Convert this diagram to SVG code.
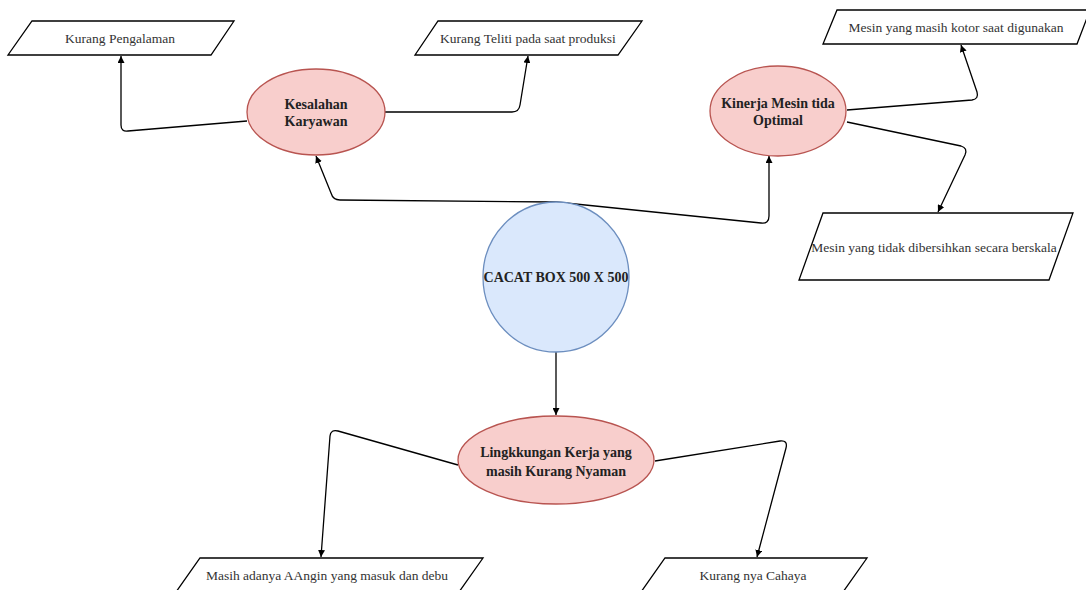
<svg xmlns="http://www.w3.org/2000/svg" width="1086" height="590" viewBox="0 0 1086 590">
<style>
.para{fill:#fff;stroke:#000;stroke-width:1.3}
.pink{fill:#f8cecc;stroke:#b85450;stroke-width:1.3}
.blue{fill:#dae8fc;stroke:#6c8ebf;stroke-width:1.3}
.t{font-size:13.5px;fill:#333;text-anchor:middle;dominant-baseline:central}
.b{font-size:14px;font-weight:bold;fill:#222;text-anchor:middle;dominant-baseline:central}
.e{fill:none;stroke:#000;stroke-width:1.3}
</style>
<defs>
<marker id="arr" viewBox="0 0 10 10" refX="10" refY="5" markerWidth="7" markerHeight="7" orient="auto" markerUnits="userSpaceOnUse">
<path d="M0,0 L10,5 L0,10 Z" fill="#000"/>
</marker>
</defs>
<rect width="1086" height="590" fill="#fff"/>
<g id="connectors">
<path class="e" marker-end="url(#arr)" d="M247,121 L128,131 Q121,132 121,125 L121,56"/>
<path class="e" marker-end="url(#arr)" d="M385,112 L512,112 Q519,112 520,105 L528,56"/>
<path class="e" marker-end="url(#arr)" d="M847,110 L972,100 Q979,99 977,92 L961,45"/>
<path class="e" marker-end="url(#arr)" d="M847,122 L961,146 Q968,148 965,155 L938,212"/>
<path class="e" marker-end="url(#arr)" d="M556,202 L340,200 Q333,200 331,193 L316,156"/>
<path class="e" marker-end="url(#arr)" d="M556,202 L761,223 Q769,224 769,216 L769,156"/>
<path class="e" marker-end="url(#arr)" d="M556,352 L556,415"/>
<path class="e" marker-end="url(#arr)" d="M458,465 L338,431 Q331,429 330,436 L321,557"/>
<path class="e" marker-end="url(#arr)" d="M655,461 L780,441 Q788,440 786,448 L757,557"/>
</g>
<g font-family="'Liberation Serif', 'DejaVu Serif', 'Times New Roman', serif">
<g id="kurang-pengalaman">
<polygon class="para" points="32,21 234,21 211,55 8,55"/>
<text class="t" x="120" y="38">Kurang Pengalaman</text>
</g>
<g id="kurang-teliti">
<polygon class="para" points="438,21 642,21 618,55 415,55"/>
<text class="t" x="528" y="38">Kurang Teliti pada saat produksi</text>
</g>
<g id="mesin-kotor">
<polygon class="para" points="837,10 1090,10 1077,44 823,44"/>
<text class="t" x="956" y="27">Mesin yang masih kotor saat digunakan</text>
</g>
<g id="mesin-tidak">
<polygon class="para" points="823,213 1073,213 1049,280 799,280"/>
<text class="t" x="934" y="247">Mesin yang tidak dibersihkan secara berskala</text>
</g>
<g id="kesalahan">
<ellipse class="pink" cx="316" cy="112" rx="69" ry="43"/>
<text class="b" x="316" y="104">Kesalahan</text>
<text class="b" x="316" y="121">Karyawan</text>
</g>
<g id="kinerja">
<ellipse class="pink" cx="778" cy="111" rx="68" ry="45"/>
<text class="b" x="778" y="103">Kinerja Mesin tida</text>
<text class="b" x="778" y="120">Optimal</text>
</g>
<g id="cacat">
<ellipse class="blue" cx="556" cy="277" rx="73" ry="75"/>
<text class="b" x="556" y="277">CACAT BOX 500 X 500</text>
</g>
<g id="lingkungan">
<ellipse class="pink" cx="556" cy="460" rx="98" ry="44"/>
<text class="b" x="556" y="452">Lingkkungan Kerja yang</text>
<text class="b" x="556" y="471">masih Kurang Nyaman</text>
</g>
<g id="masih-angin">
<polygon class="para" points="200,558 483,558 459,592 176,592"/>
<text class="t" x="327" y="575">Masih adanya AAngin yang masuk dan debu</text>
</g>
<g id="kurang-cahaya">
<polygon class="para" points="665,558 867,558 843,592 641,592"/>
<text class="t" x="753" y="575">Kurang nya Cahaya</text>
</g>
</g>
</svg>
